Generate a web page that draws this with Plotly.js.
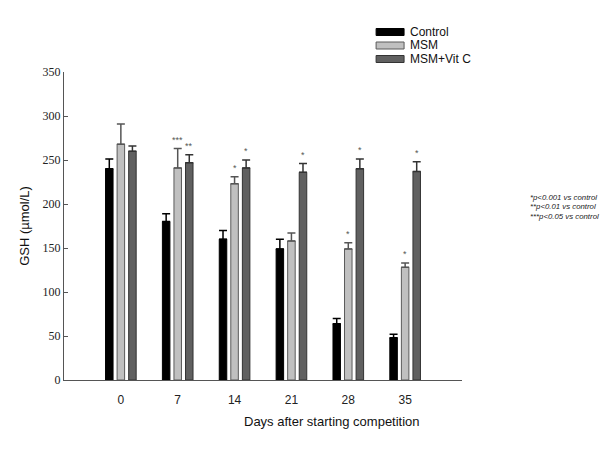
<!DOCTYPE html>
<html>
<head>
<meta charset="utf-8">
<script src="https://cdn.plot.ly/plotly-3.0.1.min.js"></script>
<style>html,body{margin:0;padding:0;background:#fff;}#chart{width:600px;height:450px;}</style>
</head>
<body>
<div id="chart"></div>
<script>
const days = ['0', '7', '14', '21', '28', '35'];
const seriesNames = ['Control', 'MSM', 'MSM+Vit C'];
const controlVals = [240, 180, 160, 149, 64, 48];
const controlErrTop = [251, 189, 170, 160, 70, 52];
const msmVals = [268, 241, 223, 158, 149, 128];
const msmErrTop = [291, 263, 231, 167, 156, 133];
const vitcVals = [260, 247, 241, 236, 240, 237];
const vitcErrTop = [266, 256, 250, 246, 251, 248];
const controlSig = ['', '', '', '', '', ''];
const msmSig = ['', '***', '*', '', '*', '*'];
const vitcSig = ['', '**', '*', '*', '*', '*'];
const footnotes = ['*p<0.001 vs control', '**p<0.01 vs control', '***p<0.05 vs control'];

const xPos = days.map((d, i) => i);
const fills = ['#000000', '#c0c0c0', '#606060'];
const lines = ['#000000', '#5a5a5a', '#333333'];
const errColors = ['#000000', '#555555', '#333333'];
const vals = [controlVals, msmVals, vitcVals];
const tops = [controlErrTop, msmErrTop, vitcErrTop];
const sigs = [controlSig, msmSig, vitcSig];

const bargap = 0.39, bargroupgap = 0.35;
const slot = (1 - bargap) / 3;

const traces = vals.map((v, k) => ({
  type: 'bar',
  name: seriesNames[k],
  x: xPos,
  y: v,
  marker: {color: fills[k], line: {color: lines[k], width: 1}},
  error_y: {
    type: 'data', symmetric: false,
    array: tops[k].map((t, i) => t - v[i]),
    arrayminus: v.map(() => 0),
    color: errColors[k], thickness: 1.5, width: 4
  }
}));

const annotations = [];
sigs.forEach((s, k) => {
  s.forEach((txt, i) => {
    if (!txt) return;
    annotations.push({
      x: i + (k - 1) * slot, y: tops[k][i], xref: 'x', yref: 'y',
      text: txt, showarrow: false, yanchor: 'bottom', yshift: 2,
      font: {family: 'Liberation Sans, Arial', size: 9, color: '#555555'}
    });
  });
});
footnotes.forEach((t, j) => {
  annotations.push({
    x: 1.166, y: 0.594 - j * 0.031, xref: 'paper', yref: 'paper',
    xanchor: 'left', yanchor: 'middle', showarrow: false, text: '<i>' + t + '</i>',
    font: {family: 'Liberation Sans, Arial', size: 7.8, color: '#222222'}
  });
});
annotations.push({
  x: 0.674, y: -0.136, xref: 'paper', yref: 'paper', xanchor: 'center', yanchor: 'middle',
  showarrow: false, text: 'Days after starting competition',
  font: {family: 'Liberation Sans, Arial', size: 13, color: '#111111'}
});

// legend drawn as key swatches + labels (paper coordinates)
const plotL = 63.5, plotW = 398.5, plotT = 72, plotH = 308;
const px2x = p => (p - plotL) / plotW;
const px2y = p => 1 - (p - plotT) / plotH;
const legendRows = [32, 45.5, 59];
const shapes = [];
seriesNames.forEach((n, k) => {
  const cy = legendRows[k];
  shapes.push({
    type: 'rect', xref: 'paper', yref: 'paper',
    x0: px2x(376), x1: px2x(404), y0: px2y(cy - 3.5), y1: px2y(cy + 3.5),
    fillcolor: fills[k], line: {color: lines[k], width: 1}
  });
  annotations.push({
    x: px2x(408), y: px2y(cy), xref: 'paper', yref: 'paper', xanchor: 'left', yanchor: 'middle',
    showarrow: false, text: n, font: {family: 'Liberation Sans, Arial', size: 12, color: '#111111'}
  });
});

const layout = {
  width: 600, height: 450,
  margin: {l: plotL, r: 600 - plotL - plotW, t: plotT, b: 450 - plotT - plotH, pad: 0},
  paper_bgcolor: '#ffffff', plot_bgcolor: '#ffffff',
  barmode: 'group', bargap: bargap, bargroupgap: bargroupgap,
  showlegend: false,
  xaxis: {
    range: [-1, 6], tickmode: 'array', tickvals: xPos, ticktext: days,
    showline: true, linecolor: '#555555', linewidth: 1, ticks: '',
    showgrid: false, zeroline: false, fixedrange: true, ticklabelstandoff: 9,
    tickfont: {family: 'Liberation Sans, Arial', size: 12, color: '#222222'}
  },
  yaxis: {
    range: [0, 350], tickvals: [0, 50, 100, 150, 200, 250, 300, 350],
    showline: true, linecolor: '#555555', linewidth: 1,
    ticks: 'inside', ticklen: 4, tickcolor: '#555555',
    showgrid: false, zeroline: false,
    tickfont: {family: '"Times New Roman", "Liberation Serif", "DejaVu Serif", serif', size: 12, color: '#222222'},
    title: {text: 'GSH (µmol/L)', standoff: 10, font: {family: 'Liberation Sans, Arial', size: 13, color: '#111111'}}
  },
  shapes: shapes,
  annotations: annotations
};

Plotly.newPlot('chart', traces, layout, {displayModeBar: false, staticPlot: true});
</script>
</body>
</html>
